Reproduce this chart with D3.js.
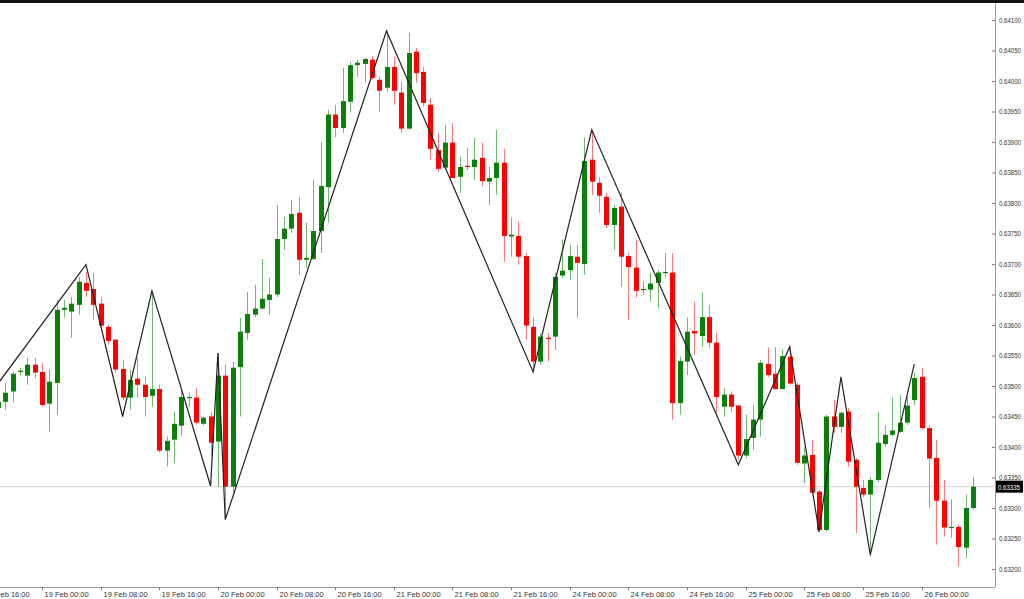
<!DOCTYPE html>
<html><head><meta charset="utf-8">
<script src="https://cdn.jsdelivr.net/npm/d3@7"></script>
<style>body{margin:0;background:#fff;overflow:hidden}svg{display:block}</style>
</head><body><svg id="c" width="1024" height="599"></svg>
<script>
// candle index (0 = 19 Feb 00:00, hourly bars, weekend skipped)
const startIndex = -6;
const opens  = [0.63464,0.63474,0.63491,0.63523,0.63517,0.63535,0.63523,0.63471,0.63505,0.63625,0.63622,0.63633,0.63669,0.63659,0.63635,0.63597,0.63576,0.63528,0.63481,0.63512,0.63502,0.63484,0.63495,0.63394,0.63412,0.63435,0.63481,0.63481,0.63438,0.63450,0.63409,0.63517,0.63335,0.63531,0.63587,0.63617,0.63627,0.63641,0.63650,0.63741,0.63758,0.63784,0.63707,0.63708,0.63754,0.63826,0.63945,0.63923,0.63966,0.64026,0.64028,0.64035,0.64002,0.63989,0.64023,0.63981,0.63922,0.64048,0.64015,0.63961,0.63887,0.63858,0.63899,0.63843,0.63861,0.63859,0.63874,0.63835,0.63841,0.63866,0.63745,0.63746,0.63713,0.63597,0.63540,0.63579,0.63581,0.63681,0.63690,0.63712,0.63700,0.63871,0.63833,0.63810,0.63764,0.63794,0.63713,0.63694,0.63658,0.63658,0.63669,0.63686,0.63686,0.63472,0.63540,0.63590,0.63582,0.63613,0.63571,0.63466,0.63486,0.63468,0.63386,0.63415,0.63445,0.63536,0.63520,0.63495,0.63548,0.63502,0.63373,0.63387,0.63327,0.63264,0.63450,0.63433,0.63458,0.63379,0.63333,0.63322,0.63346,0.63405,0.63420,0.63425,0.63440,0.63477,0.63515,0.63431,0.63382,0.63312,0.63268,0.63269,0.63235,0.63300];
const highs  = [0.63481,0.63505,0.63523,0.63530,0.63546,0.63546,0.63538,0.63527,0.63641,0.63641,0.63646,0.63679,0.63687,0.63686,0.63646,0.63600,0.63576,0.63543,0.63527,0.63546,0.63515,0.63654,0.63502,0.63417,0.63458,0.63492,0.63489,0.63497,0.63450,0.63458,0.63554,0.63535,0.63540,0.63612,0.63654,0.63666,0.63708,0.63677,0.63797,0.63777,0.63805,0.63810,0.63768,0.63838,0.63900,0.63953,0.63961,0.64022,0.64031,0.64035,0.64038,0.64040,0.64007,0.64082,0.64040,0.63999,0.64079,0.64054,0.64023,0.63972,0.63915,0.63928,0.63931,0.63876,0.63890,0.63907,0.63899,0.63859,0.63920,0.63889,0.63776,0.63769,0.63718,0.63613,0.63587,0.63587,0.63686,0.63740,0.63731,0.63731,0.63908,0.63920,0.63843,0.63817,0.63797,0.63817,0.63718,0.63740,0.63671,0.63686,0.63690,0.63718,0.63718,0.63548,0.63612,0.63638,0.63653,0.63633,0.63587,0.63497,0.63491,0.63469,0.63453,0.63469,0.63543,0.63563,0.63564,0.63559,0.63564,0.63505,0.63400,0.63412,0.63330,0.63453,0.63477,0.63458,0.63464,0.63382,0.63346,0.63351,0.63458,0.63436,0.63481,0.63486,0.63482,0.63522,0.63530,0.63436,0.63412,0.63346,0.63314,0.63273,0.63322,0.63351];
const lows   = [0.63458,0.63461,0.63474,0.63517,0.63502,0.63513,0.63466,0.63425,0.63453,0.63612,0.63579,0.63617,0.63646,0.63609,0.63592,0.63568,0.63522,0.63477,0.63461,0.63481,0.63450,0.63466,0.63391,0.63368,0.63374,0.63418,0.63466,0.63437,0.63435,0.63384,0.63335,0.63281,0.63318,0.63450,0.63576,0.63613,0.63625,0.63617,0.63646,0.63723,0.63751,0.63682,0.63694,0.63707,0.63718,0.63768,0.63908,0.63915,0.63948,0.64007,0.63997,0.64002,0.63949,0.63982,0.63961,0.63915,0.63920,0.63997,0.63958,0.63871,0.63851,0.63854,0.63841,0.63817,0.63854,0.63838,0.63828,0.63797,0.63813,0.63704,0.63712,0.63699,0.63576,0.63522,0.63535,0.63540,0.63559,0.63677,0.63674,0.63612,0.63682,0.63813,0.63784,0.63759,0.63723,0.63663,0.63609,0.63645,0.63650,0.63638,0.63627,0.63679,0.63445,0.63453,0.63518,0.63551,0.63564,0.63563,0.63456,0.63450,0.63458,0.63379,0.63382,0.63395,0.63417,0.63515,0.63494,0.63494,0.63502,0.63371,0.63341,0.63322,0.63261,0.63261,0.63423,0.63423,0.63368,0.63259,0.63318,0.63220,0.63343,0.63400,0.63417,0.63423,0.63436,0.63469,0.63428,0.63300,0.63240,0.63253,0.63251,0.63204,0.63218,0.63297];
const closes = [0.63474,0.63489,0.63520,0.63525,0.63535,0.63522,0.63469,0.63507,0.63625,0.63628,0.63635,0.63671,0.63656,0.63633,0.63599,0.63574,0.63527,0.63481,0.63510,0.63502,0.63482,0.63495,0.63394,0.63410,0.63438,0.63482,0.63482,0.63440,0.63448,0.63407,0.63517,0.63335,0.63530,0.63589,0.63618,0.63627,0.63643,0.63650,0.63741,0.63758,0.63782,0.63707,0.63710,0.63754,0.63828,0.63945,0.63923,0.63967,0.64026,0.64030,0.64036,0.64005,0.63984,0.64023,0.63984,0.63922,0.64046,0.64013,0.63964,0.63889,0.63856,0.63899,0.63841,0.63859,0.63859,0.63871,0.63836,0.63841,0.63866,0.63746,0.63748,0.63712,0.63599,0.63540,0.63581,0.63577,0.63679,0.63689,0.63713,0.63702,0.63869,0.63835,0.63812,0.63764,0.63792,0.63712,0.63695,0.63656,0.63659,0.63668,0.63686,0.63687,0.63472,0.63541,0.63589,0.63586,0.63613,0.63571,0.63482,0.63486,0.63466,0.63386,0.63413,0.63445,0.63538,0.63518,0.63495,0.63549,0.63504,0.63374,0.63386,0.63325,0.63264,0.63450,0.63433,0.63456,0.63376,0.63335,0.63322,0.63346,0.63407,0.63420,0.63427,0.63440,0.63468,0.63513,0.63431,0.63381,0.63312,0.63268,0.63269,0.63236,0.63300,0.63335];
// zigzag pivots: candle index and price
const zigIdx   = [-6,6,11,15,23,24,25,47,67,75,95,102,106,109,113,119];
const zigPrice = [0.63504,0.63699,0.63450,0.63656,0.63336,0.63554,0.63281,0.64082,0.63523,0.63920,0.63371,0.63564,0.63261,0.63515,0.63223,0.63536];
const priceTicks = [0.632,0.6325,0.633,0.6335,0.634,0.6345,0.635,0.6355,0.636,0.6365,0.637,0.6375,0.638,0.6385,0.639,0.6395,0.640,0.6405,0.641];
const timeTickIdx = [-8,0,8,16,24,32,40,48,56,64,72,80,88,96,104,112,120];
const timeTickLabels = ["18 Feb 16:00","19 Feb 00:00","19 Feb 08:00","19 Feb 16:00","20 Feb 00:00","20 Feb 08:00","20 Feb 16:00","21 Feb 00:00","21 Feb 08:00","21 Feb 16:00","24 Feb 00:00","24 Feb 08:00","24 Feb 16:00","25 Feb 00:00","25 Feb 08:00","25 Feb 16:00","26 Feb 00:00"];
const lastPrice = 0.63335;

const svg = d3.select("#c");
const W = 1024, H = 599, axisX = 995, axisY = 587;
const FONT = "Liberation Sans, Arial, sans-serif";
const x = d3.scaleLinear().domain([0,127]).range([42, 42+7.33*127]);
const y = d3.scaleLinear().domain([0.632,0.641]).range([569,20]);
const GREEN = "#0a800a", RED = "#ff0000";

const candles = opens.map((o,k)=>({i:startIndex+k,o,h:highs[k],l:lows[k],c:closes[k]}));

svg.append("clipPath").attr("id","pc").append("rect").attr("x",0).attr("y",3).attr("width",axisX).attr("height",axisY-3);
const plot = svg.append("g").attr("clip-path","url(#pc)");

plot.append("line").attr("x1",0).attr("x2",axisX).attr("y1",y(lastPrice)).attr("y2",y(lastPrice)).attr("stroke","#d6d6d6");

const g = plot.selectAll("g.c").data(candles).join("g");
g.append("line").attr("x1",d=>Math.round(x(d.i))+0.5).attr("x2",d=>Math.round(x(d.i))+0.5)
  .attr("y1",d=>y(d.h)).attr("y2",d=>y(d.l))
  .attr("stroke",d=>d.c>=d.o?"#6fb86f":"#f57a7a").attr("stroke-width",1);
g.append("rect").attr("x",d=>Math.round(x(d.i))-2).attr("width",5)
  .attr("y",d=>y(Math.max(d.o,d.c))).attr("height",d=>Math.max(1.2,Math.abs(y(d.o)-y(d.c))))
  .attr("fill",d=>d.c>=d.o?GREEN:RED);

plot.append("path").datum(zigIdx.map((v,k)=>[v,zigPrice[k]]))
  .attr("d",d3.line().x(d=>x(d[0])).y(d=>y(d[1])))
  .attr("fill","none").attr("stroke","#222").attr("stroke-width",1.2);

svg.append("rect").attr("x",0).attr("y",0).attr("width",W).attr("height",3).attr("fill","#111");

const ra = svg.append("g").attr("transform",`translate(${axisX},0)`)
  .call(d3.axisRight(y).tickValues(priceTicks).tickFormat(d3.format(".5f")).tickSize(3));
ra.select(".domain").attr("stroke","#9a9a9a").attr("d",`M0.5,3V${axisY}`);
ra.selectAll(".tick line").attr("stroke","#777").attr("x1",-3).attr("x2",0);
ra.selectAll(".tick text").attr("x",4).attr("font-family",FONT).attr("font-size",7)
  .attr("textLength",22).attr("lengthAdjust","spacingAndGlyphs").attr("fill","#333");

svg.append("rect").attr("x",axisX+1).attr("y",y(lastPrice)-6).attr("width",27).attr("height",12).attr("fill","#000");
svg.append("text").attr("x",axisX+3).attr("y",y(lastPrice)+3).attr("font-family",FONT).attr("font-size",7)
  .attr("textLength",22).attr("lengthAdjust","spacingAndGlyphs").attr("fill","#fff").text(d3.format(".5f")(lastPrice));

svg.append("line").attr("x1",0).attr("x2",axisX).attr("y1",axisY+0.5).attr("y2",axisY+0.5).attr("stroke","#9a9a9a");
const bt = svg.append("g").selectAll("g").data(timeTickIdx).join("g")
  .attr("transform",(d)=>`translate(${Math.round(x(d))+0.5},${axisY})`);
bt.append("line").attr("y1",0).attr("y2",3).attr("stroke","#777");
bt.append("text").attr("x",2).attr("y",10).attr("font-family",FONT).attr("font-size",7.5).attr("fill","#333")
  .text((d,k)=>timeTickLabels[k]);
</script></body></html>
